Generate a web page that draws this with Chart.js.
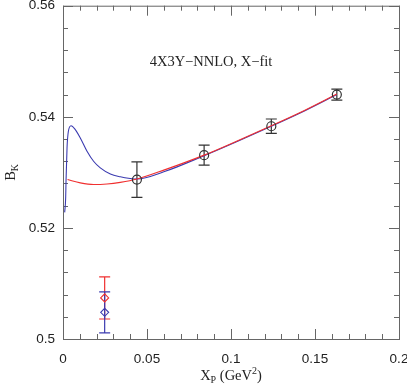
<!DOCTYPE html>
<html>
<head>
<meta charset="utf-8">
<script src="https://cdn.jsdelivr.net/npm/chart.js@4.4.1/dist/chart.umd.min.js"></script>
<style>
  html, body { margin: 0; padding: 0; background: #fff; }
  #wrap { width: 407px; height: 386px; }
</style>
</head>
<body>
<div id="wrap"><canvas id="c" width="407" height="386"></canvas></div>
<script>
// ---- data ----
const xTickVals = [0, 0.05, 0.1, 0.15, 0.2];
const xTickLabels = ["0", "0.05", "0.1", "0.15", "0.2"];
const yTickVals = [0.5, 0.52, 0.54, 0.56];
const yTickLabels = ["0.5", "0.52", "0.54", "0.56"];

const dataX = [0.044, 0.084, 0.124, 0.163];
const dataBK = [0.5287, 0.5331, 0.5383, 0.5440];
const dataErr = [0.0032, 0.0018, 0.0013, 0.0010];

const redPtX = [0.0248];
const redPtY = [0.5074];
const redPtErr = [0.0038];
const bluePtX = [0.0248];
const bluePtY = [0.5048];
const bluePtErr = [0.0037];

const blueCurveX = [0.0010, 0.0016, 0.0018, 0.0024, 0.0032, 0.0048, 0.0073, 0.0103, 0.0143, 0.0182, 0.0222, 0.0282, 0.0341, 0.0400, 0.0440, 0.0600, 0.0840, 0.1040, 0.1240, 0.1440, 0.1630];
const blueCurveY = [0.5228, 0.5255, 0.5284, 0.5344, 0.5374, 0.5384, 0.5377, 0.5362, 0.5338, 0.5320, 0.5308, 0.5297, 0.5292, 0.5289, 0.5288, 0.5301, 0.5330, 0.5356, 0.5383, 0.5411, 0.5440];
const redCurveX = [0.0027, 0.0103, 0.0182, 0.0262, 0.0341, 0.0440, 0.0600, 0.0840, 0.1040, 0.1240, 0.1440, 0.1630];
const redCurveY = [0.5287, 0.5281, 0.5278, 0.5279, 0.5282, 0.5288, 0.5304, 0.5331, 0.5357, 0.5384, 0.5412, 0.5441];

const xMinorStep = 0.01, yMinorStep = 0.004;

const AXIS_COLOR = '#666';
const BLUE = '#3b3bb0';
const RED = '#f03030';
const DARK = '#333';

function pts(xs, ys) { return xs.map((x, i) => ({ x: x, y: ys[i] })); }

const errorBars = [
  { xs: dataX, ys: dataBK, es: dataErr, color: DARK },
  { xs: redPtX, ys: redPtY, es: redPtErr, color: RED },
  { xs: bluePtX, ys: bluePtY, es: bluePtErr, color: BLUE }
];

const framePlugin = {
  id: 'frame',
  beforeDatasetsDraw(chart) {
    const { ctx, chartArea: a, scales: { x, y } } = chart;
    ctx.save();
    ctx.strokeStyle = AXIS_COLOR;
    ctx.lineWidth = 1;
    ctx.strokeRect(a.left + 0.5, a.top + 0.5, a.right - a.left, a.bottom - a.top);
    ctx.beginPath();
    const nx = Math.round((x.max - x.min) / xMinorStep);
    for (let i = 0; i <= nx; i++) {
      const v = x.min + i * xMinorStep;
      const major = xTickVals.some(t => Math.abs(t - v) < 1e-9);
      const len = major ? 10 : 5;
      const px = Math.round(x.getPixelForValue(v)) + 0.5;
      ctx.moveTo(px, a.bottom); ctx.lineTo(px, a.bottom - len);
      ctx.moveTo(px, a.top); ctx.lineTo(px, a.top + len);
    }
    const ny = Math.round((y.max - y.min) / yMinorStep);
    for (let i = 0; i <= ny; i++) {
      const v = y.min + i * yMinorStep;
      const major = yTickVals.some(t => Math.abs(t - v) < 1e-9);
      const len = major ? 10 : 5;
      const py = Math.round(y.getPixelForValue(v)) + 0.5;
      ctx.moveTo(a.left, py); ctx.lineTo(a.left + len, py);
      ctx.moveTo(a.right, py); ctx.lineTo(a.right - len, py);
    }
    ctx.stroke();

    errorBars.forEach(eb => {
      ctx.strokeStyle = eb.color;
      ctx.lineWidth = 1.2;
      ctx.beginPath();
      eb.xs.forEach((xv, i) => {
        const px = x.getPixelForValue(xv);
        const pt = y.getPixelForValue(eb.ys[i] + eb.es[i]);
        const pb = y.getPixelForValue(eb.ys[i] - eb.es[i]);
        ctx.moveTo(px, pt); ctx.lineTo(px, pb);
        ctx.moveTo(px - 5.5, pt); ctx.lineTo(px + 5.5, pt);
        ctx.moveTo(px - 5.5, pb); ctx.lineTo(px + 5.5, pb);
      });
      ctx.stroke();
    });
    ctx.restore();
  },
  afterDraw(chart) {
    const { ctx, chartArea: a } = chart;
    ctx.save();
    ctx.fillStyle = '#222';
    ctx.font = '14.5px "Liberation Serif"';
    ctx.textAlign = 'center';
    ctx.textBaseline = 'alphabetic';
    ctx.fillText('4X3Y\u2212NNLO, X\u2212fit', 211, 66);

    const cx = (a.left + a.right) / 2;
    const bigF = '14.5px "Liberation Serif"', smallF = '10px "Liberation Serif"';
    const parts = [
      { t: 'X', f: bigF, dy: 0 },
      { t: 'P', f: smallF, dy: 3 },
      { t: ' (GeV', f: bigF, dy: 0 },
      { t: '2', f: smallF, dy: -6 },
      { t: ')', f: bigF, dy: 0 }
    ];
    let total = 0;
    parts.forEach(p => { ctx.font = p.f; p.w = ctx.measureText(p.t).width; total += p.w; });
    let sx = cx - total / 2;
    ctx.textAlign = 'left';
    const base = 380;
    parts.forEach(p => { ctx.font = p.f; ctx.fillText(p.t, sx, base + p.dy); sx += p.w; });

    const cy = (a.top + a.bottom) / 2;
    ctx.translate(15, cy);
    ctx.rotate(-Math.PI / 2);
    const yparts = [
      { t: 'B', f: bigF, dy: 0 },
      { t: 'K', f: smallF, dy: 3 }
    ];
    total = 0;
    yparts.forEach(p => { ctx.font = p.f; p.w = ctx.measureText(p.t).width; total += p.w; });
    sx = -total / 2;
    yparts.forEach(p => { ctx.font = p.f; ctx.fillText(p.t, sx, p.dy); sx += p.w; });
    ctx.restore();
  }
};

new Chart(document.getElementById('c'), {
  type: 'scatter',
  data: {
    datasets: [
      {
        label: 'blue fit', type: 'line', data: pts(blueCurveX, blueCurveY),
        borderColor: BLUE, borderWidth: 1.1, pointRadius: 0, fill: false,
        cubicInterpolationMode: 'monotone', order: 3
      },
      {
        label: 'red fit', type: 'line', data: pts(redCurveX, redCurveY),
        borderColor: RED, borderWidth: 1.1, pointRadius: 0, fill: false,
        cubicInterpolationMode: 'monotone', order: 2
      },
      {
        label: 'data', data: pts(dataX, dataBK),
        pointStyle: 'circle', pointRadius: 4.5, borderColor: DARK, borderWidth: 1.2,
        backgroundColor: 'rgba(0,0,0,0)', order: 1
      },
      {
        label: 'red pt', data: pts(redPtX, redPtY),
        pointStyle: 'rectRot', pointRadius: 4, borderColor: RED, borderWidth: 1.1,
        backgroundColor: 'rgba(0,0,0,0)', order: 1
      },
      {
        label: 'blue pt', data: pts(bluePtX, bluePtY),
        pointStyle: 'rectRot', pointRadius: 4, borderColor: BLUE, borderWidth: 1.1,
        backgroundColor: 'rgba(0,0,0,0)', order: 1
      }
    ]
  },
  options: {
    responsive: false,
    animation: false,
    events: [],
    layout: { padding: { left: 0, right: 8, top: 5, bottom: 0 } },
    plugins: { legend: { display: false }, tooltip: { enabled: false } },
    scales: {
      x: {
        type: 'linear', min: 0, max: 0.2,
        afterBuildTicks: s => { s.ticks = xTickVals.map(v => ({ value: v })); },
        afterFit: s => { s.height = 47; s.paddingLeft = 0; s.paddingRight = 0; },
        grid: { display: false, drawTicks: false },
        border: { display: false },
        ticks: {
          padding: 12, color: '#222', maxRotation: 0, autoSkip: false,
          font: { family: '"Liberation Sans"', size: 13.5 },
          callback: (v, i) => xTickLabels[i]
        }
      },
      y: {
        type: 'linear', min: 0.5, max: 0.56,
        afterBuildTicks: s => { s.ticks = yTickVals.map(v => ({ value: v })); },
        afterFit: s => { s.width = 63; s.paddingTop = 0; s.paddingBottom = 0; },
        grid: { display: false, drawTicks: false },
        border: { display: false },
        ticks: {
          padding: 8, color: '#222', autoSkip: false,
          font: { family: '"Liberation Sans"', size: 13.5 },
          callback: (v, i) => yTickLabels[i]
        }
      }
    }
  },
  plugins: [framePlugin]
});
</script>
</body>
</html>
